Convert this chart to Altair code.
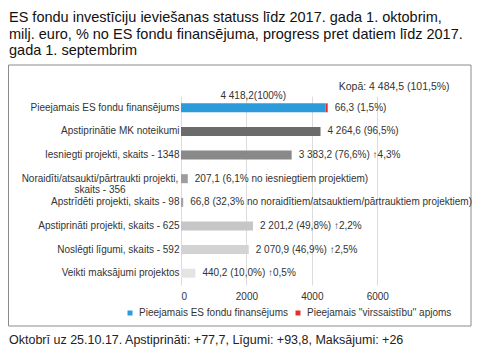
import altair as alt
import pandas as pd

# ---- data ----
categories = [
    "Pieejamais ES fondu finansējums",
    "Apstiprinātie MK noteikumi",
    "Iesniegti projekti, skaits - 1348",
    "Noraidīti/atsaukti/pārtraukti projekti,|skaits - 356",
    "Apstrīdēti projekti, skaits - 98",
    "Apstiprināti projekti, skaits - 625",
    "Noslēgti līgumi, skaits - 592",
    "Veikti maksājumi projektos",
]
values = [4418.2, 4264.6, 3383.2, 207.1, 66.8, 2201.2, 2070.9, 440.2]
over_commit = 66.3  # red "virssaistību" part stacked on the first bar
series_blue = "Pieejamais ES fondu finansējums"
series_red = "Pieejamais ''virssaistību'' apjoms"
value_labels = [
    "66,3 (1,5%)",
    "4 264,6 (96,5%)",
    "3 383,2 (76,6%) ↑4,3%",
    "207,1 (6,1% no iesniegtiem projektiem)",
    "66,8 (32,3% no noraidītiem/atsauktiem/pārtrauktiem projektiem)",
    "2 201,2 (49,8%) ↑2,2%",
    "2 070,9 (46,9%) ↑2,5%",
    "440,2 (10,0%) ↑0,5%",
]
top_label = "4 418,2(100%)"
total_label = "Kopā: 4 484,5 (101,5%)"
x_ticks = [0, 2000, 4000, 6000]
title_lines = [
    "ES fondu investīciju ieviešanas statuss līdz 2017. gada 1. oktobrim,",
    "milj. euro, % no ES fondu finansējuma, progress pret datiem līdz 2017.",
    "gada 1. septembrim",
]
footer = "Oktobrī uz 25.10.17. Apstiprināti: +77,7, Līgumi: +93,8, Maksājumi: +26"

# ---- styles ----
color_domain = [series_blue, series_red] + categories[1:]
color_range = ["#2b9bdc", "#e0312c", "#6b6b6b", "#898989", "#9d9d9d",
               "#a3a3a3", "#c6c6c6", "#d3d3d3", "#e4e4e4"]
FONT = "Liberation Sans"

# ---- tables built from the lists ----
bar_rows = [
    {"cat": categories[0], "series": series_blue, "start": 0, "end": values[0]},
    {"cat": categories[0], "series": series_red, "start": values[0], "end": values[0] + over_commit},
]
for c, v in zip(categories[1:], values[1:]):
    bar_rows.append({"cat": c, "series": c, "start": 0, "end": v})
bars_df = pd.DataFrame(bar_rows)

ends = [values[0] + over_commit] + values[1:]
labels_df = pd.DataFrame({"cat": categories, "end": ends, "label": value_labels})
top_df = pd.DataFrame({"cat": [categories[0]], "mid": [values[0] / 2], "label": [top_label]})
total_df = pd.DataFrame({"cat": [categories[0]], "end": [values[0] + over_commit], "label": [total_label]})
multi_df = pd.DataFrame({"cat": [c for c in categories if "|" in c]})

W, H = 229, 189
xscale = alt.Scale(domain=[0, 7000], nice=False)
yenc = alt.Y("cat:N", sort=categories,
             scale=alt.Scale(paddingInner=0.62, paddingOuter=0.31),
             axis=alt.Axis(title=None,
                           labelExpr="indexof(datum.label, '|') >= 0 ? '' : datum.label",
                           labelFontSize=10, labelColor="#333", labelFont=FONT,
                           labelLimit=400, ticks=False, domain=False, labelPadding=2))

bars = alt.Chart(bars_df).mark_bar().encode(
    x=alt.X("start:Q", scale=xscale,
            axis=alt.Axis(title=None, values=x_ticks, format="d", grid=True,
                          gridColor="#dcdcdc", domain=False, ticks=False,
                          labelFontSize=10, labelColor="#333", labelFont=FONT,
                          labelPadding=6)),
    x2="end:Q",
    y=yenc,
    color=alt.Color("series:N", scale=alt.Scale(domain=color_domain, range=color_range),
                    legend=alt.Legend(values=[series_blue, series_red], orient="none",
                                      legendX=-56, legendY=212, direction="horizontal",
                                      title=None, symbolType="square", symbolSize=25,
                                      labelFontSize=10, labelFont=FONT, labelColor="#333",
                                      columnPadding=5, symbolStrokeWidth=0)),
)

text_style = dict(fontSize=10, font=FONT, color="#333", baseline="middle")

labels = alt.Chart(labels_df).mark_text(align="left", dx=7, **text_style).encode(
    x=alt.X("end:Q", scale=xscale), y=alt.Y("cat:N", sort=categories), text="label:N")

top = alt.Chart(top_df).mark_text(align="center", dy=-12, **text_style).encode(
    x=alt.X("mid:Q", scale=xscale), y=alt.Y("cat:N", sort=categories), text="label:N")

total = alt.Chart(total_df).mark_text(align="left", dx=11, dy=-21, fontSize=10.5,
                                     font=FONT, color="#333", baseline="middle").encode(
    x=alt.X("end:Q", scale=xscale), y=alt.Y("cat:N", sort=categories), text="label:N")

# two-line category label, centred as a block like the original
multi = alt.Chart(multi_df).mark_text(align="center", baseline="middle", lineBreak="|",
                                     lineHeight=11, fontSize=10, font=FONT,
                                     color="#333").encode(
    x=alt.value(-81), y=alt.Y("cat:N", sort=categories), text="cat:N")

frame = alt.Chart(pd.DataFrame({"k": [0]})).mark_rect(
    fill="transparent", stroke="#8c8c8c", strokeWidth=1).encode(
    x=alt.value(-172.5), x2=alt.value(290), y=alt.value(-31), y2=alt.value(230))

foot = alt.Chart(pd.DataFrame({"t": [footer]})).mark_text(
    align="left", baseline="middle", fontSize=12.5, font=FONT, color="#222").encode(
    x=alt.value(-172), y=alt.value(244), text="t:N")

chart = alt.layer(frame, bars, labels, top, total, multi, foot).properties(
    width=W, height=H,
    title=alt.TitleParams(title_lines, anchor="start", frame="group", dx=-172,
                          offset=6, fontSize=14.5, font=FONT, fontWeight="normal",
                          color="#111", lineHeight=16.5),
    autosize=alt.AutoSizeParams(type="none"),
    padding={"left": 173, "top": 88, "right": 71, "bottom": 65},
).configure_view(stroke=None).resolve_scale(x="shared")

chart.save("out.html", embed_options={"renderer": "svg", "actions": False})
